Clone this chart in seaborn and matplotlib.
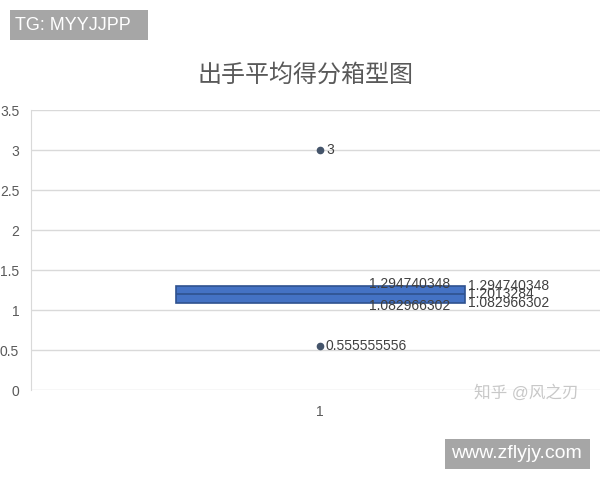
import pandas as pd
import matplotlib
matplotlib.use("Agg")
import matplotlib.pyplot as plt
from matplotlib.patches import Rectangle
import seaborn as sns

# Data
groups = ["1", "1", "1", "1", "1"]
scores = [0.555555556, 1.082966302, 1.2013284, 1.294740348, 3]
outlier_labels = [3, 0.555555556]
box_labels_left = [1.294740348, 1.082966302]
box_labels_right = [1.294740348, 1.2013284, 1.082966302]
y_ticks = [0, 0.5, 1, 1.5, 2, 2.5, 3, 3.5]

df = pd.DataFrame({"组": groups, "得分": scores})

sns.set_style("white")
plt.rcParams["font.family"] = ["Liberation Sans", "Noto Sans CJK SC", "DejaVu Sans"]

fig = plt.figure(figsize=(6, 4.8), dpi=100)
ax = fig.add_axes([31 / 600, 90 / 480, 569 / 600, 280 / 480])

sns.boxplot(data=df, x="组", y="得分", width=0.5, color="#4472C4", saturation=1,
            linecolor="#2F528F", linewidth=1.2, showcaps=False,
            flierprops=dict(marker="o", markersize=4.5, markerfacecolor="#44546A",
                            markeredgecolor="#44546A"),
            ax=ax)

# data labels
for v in outlier_labels:
    ax.text(0.01, v, f"{v:g}" if v == 3 else "0.555555556", va="center", ha="left",
            fontsize=10, color="#404040")
for v, dy in zip(box_labels_left, [0.03, -0.03]):
    ax.text(0.225, v + dy, f"{v:.9f}", va="center", ha="right", fontsize=10,
            color="#404040")
for v in box_labels_right:
    ax.text(0.255, v, f"{v:.9f}".rstrip("0"), va="center", ha="left", fontsize=10,
            color="#404040")

ax.set_xlim(-0.5, 0.484)
ax.set_ylim(0, 3.5)
ax.set_yticks(y_ticks)
ax.set_yticklabels([f"{t:g}" for t in y_ticks])
ax.set_xlabel("")
ax.set_ylabel("")
ax.yaxis.grid(True, color="#D9D9D9", linewidth=1)
ax.set_axisbelow(True)
for s in ["top", "right", "bottom"]:
    ax.spines[s].set_visible(False)
ax.spines["left"].set_color("#D9D9D9")
ax.tick_params(axis="y", length=0, pad=8.5, labelsize=10, labelcolor="#595959")
ax.tick_params(axis="x", length=0, pad=10.5, labelsize=10, labelcolor="#595959")

fig.text(306 / 600, 1 - 75 / 480, "出手平均得分箱型图", ha="center", va="center",
         fontsize=17.3, color="#595959")

# watermarks
fig.patches.append(Rectangle((10 / 600, 1 - 40 / 480), 138 / 600, 30 / 480,
                             transform=fig.transFigure, fc="#A6A6A6", ec="none"))
fig.text(15 / 600, 1 - 25 / 480, "TG: MYYJJPP", ha="left", va="center", fontsize=13,
         color="white")
fig.patches.append(Rectangle((445 / 600, 1 - 469 / 480), 145 / 600, 30 / 480,
                             transform=fig.transFigure, fc="#A6A6A6", ec="none"))
fig.text(451 / 600, 1 - 454 / 480, "www.zflyjy.com", ha="left", va="center",
         fontsize=14, color="white")
fig.text(526 / 600, 1 - 393 / 480, "知乎 @风之刃", ha="center", va="center",
         fontsize=12, color="#C8C8C8")

fig.savefig("out.png", dpi=100)
